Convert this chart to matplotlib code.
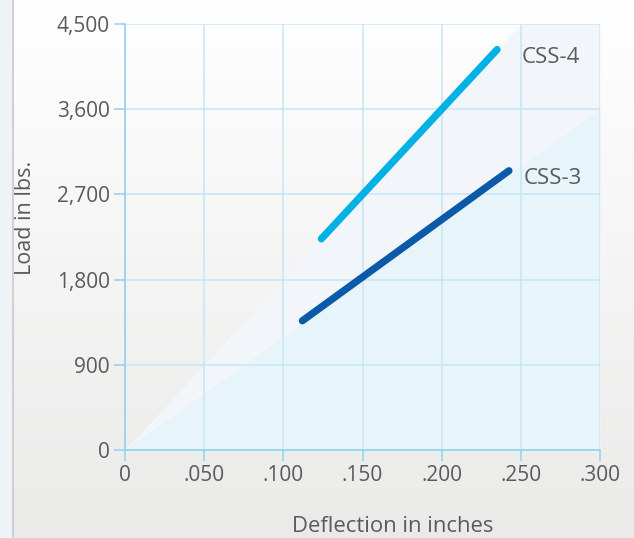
import numpy as np
import matplotlib
matplotlib.use('Agg')
import matplotlib.pyplot as plt
from matplotlib.patches import Rectangle

plt.rcParams['font.family'] = ['Open Sans', 'DejaVu Sans']

# --- data ---
series_names = ['CSS-4', 'CSS-3']
defl_css4 = [0.124, 0.235]
load_css4 = [2230, 4230]
defl_css3 = [0.112, 0.2425]
load_css3 = [1365, 2950]

# background wedges behind the curves
wedge_hi_x = [0.0, 0.25, 0.30]
wedge_hi_y = [0, 4500, 4500]
wedge_lo_x = [0.0, 0.30]
wedge_lo_y = [0, 3600]

x_ticks = [0, 0.05, 0.10, 0.15, 0.20, 0.25, 0.30]
x_labels = ['0', '.050', '.100', '.150', '.200', '.250', '.300']
y_ticks = [0, 900, 1800, 2700, 3600, 4500]
y_labels = ['0', '900', '1,800', '2,700', '3,600', '4,500']

TXT = '#5a5a5a'
GRID = '#c6e6f6'
SPINE = '#8fd2f1'
C4 = '#00b1e6'
C3 = '#0a5aa9'

fig = plt.figure(figsize=(6.34, 5.38), dpi=100)

# soft vertical gradient for the page
bg = fig.add_axes([0, 0, 1, 1], zorder=-10)
grad = np.linspace(1.0, 0.0, 256).reshape(-1, 1)
top = np.array([1.0, 1.0, 1.0])
bot = np.array([0.918, 0.918, 0.914])
img = grad[..., None] * top + (1 - grad[..., None]) * bot
bg.imshow(img, aspect='auto', extent=[0, 1, 0, 1])
bg.add_patch(Rectangle((0, 0), 12.5 / 634, 1, color='#eef3f8', lw=0))
bg.axvline(12.5 / 634, color='#c9c9c9', lw=1.2)
bg.set_xlim(0, 1)
bg.set_ylim(0, 1)
bg.axis('off')

ax = fig.add_axes([125 / 634, 88 / 538, 475 / 634, 426 / 538])
ax.set_facecolor('none')
ax.set_xlim(0, 0.3)
ax.set_ylim(0, 4500)

ax.fill_between(wedge_hi_x, wedge_hi_y, 0, color='#f2f6fb', lw=0, zorder=0.1)
ax.fill_between(wedge_lo_x, wedge_lo_y, 0, color='#e7f4fa', lw=0, zorder=0.2)

ax.set_xticks(x_ticks)
ax.set_xticklabels(x_labels)
ax.set_yticks(y_ticks)
ax.set_yticklabels(y_labels)
ax.grid(True, color=GRID, lw=1.1)
ax.set_axisbelow(True)
for s in ['top', 'right']:
    ax.spines[s].set_visible(False)
for s in ['left', 'bottom']:
    ax.spines[s].set_color(SPINE)
    ax.spines[s].set_linewidth(1.2)
ax.tick_params(axis='both', length=8, width=1.1, color=SPINE, labelcolor=TXT,
               labelsize=15, pad=3)

ax.plot(defl_css4, load_css4, color=C4, lw=5.2, solid_capstyle='round', zorder=3)
ax.plot(defl_css3, load_css3, color=C3, lw=5.2, solid_capstyle='round', zorder=3)
ax.text(0.2505, 4150, series_names[0], color=TXT, fontsize=16, ha='left', va='center')
ax.text(0.252, 2865, series_names[1], color=TXT, fontsize=16, ha='left', va='center')

fig.text(26 / 634, (538 - 218) / 538, 'Load in lbs.', rotation=90, color=TXT,
         fontsize=15.5, ha='center', va='center')
fig.text(393 / 634, 6 / 538, 'Deflection in inches', color=TXT,
         fontsize=15.8, ha='center', va='baseline')

fig.savefig('out.png', dpi=100)
